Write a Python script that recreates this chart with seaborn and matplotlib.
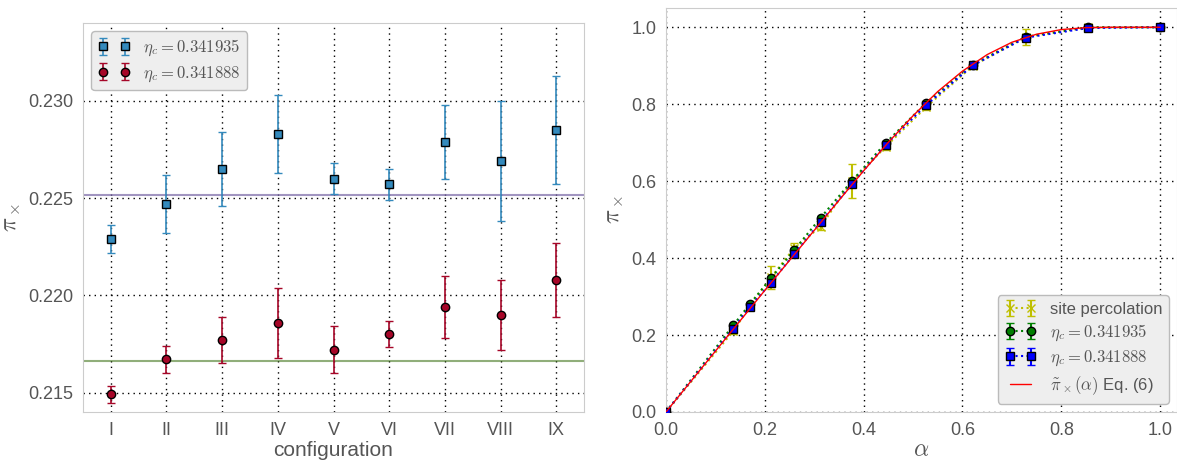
import numpy as np
import pandas as pd
import seaborn as sns
import matplotlib.pyplot as plt

# left panel: pi_x per configuration
configs = ["I", "II", "III", "IV", "V", "VI", "VII", "VIII", "IX"]
pi_a = [0.2229, 0.2247, 0.2265, 0.2283, 0.2260, 0.2257, 0.2279, 0.2269, 0.2285]
err_a = [0.0007, 0.0015, 0.0019, 0.0020, 0.0008, 0.0008, 0.0019, 0.0031, 0.0028]
pi_b = [0.2149, 0.2167, 0.2177, 0.2186, 0.2172, 0.2180, 0.2194, 0.2190, 0.2208]
err_b = [0.00045, 0.0007, 0.0012, 0.0018, 0.0012, 0.00066, 0.0016, 0.0018, 0.0019]
mean_a = 0.22514
mean_b = 0.21664
label_a = r"$\eta_c=0.341935$"
label_b = r"$\eta_c=0.341888$"

# right panel: pi_x vs alpha
alpha = [0.0, 0.136, 0.170, 0.2126, 0.259, 0.313, 0.376, 0.445, 0.526, 0.621, 0.728, 0.854, 1.0]
site = [0.0, 0.210, 0.275, 0.350, 0.425, 0.482, 0.600, 0.690, 0.792, 0.900, 0.975, 1.0, 1.0]
site_err = [0.0, 0.006, 0.006, 0.030, 0.015, 0.008, 0.045, 0.008, 0.008, 0.006, 0.020, 0.002, 0.0]
green = [0.0, 0.225, 0.281, 0.348, 0.420, 0.505, 0.600, 0.700, 0.803, 0.903, 0.975, 1.0, 1.0]
green_err = [0.0, 0.004, 0.004, 0.006, 0.005, 0.005, 0.006, 0.005, 0.004, 0.003, 0.003, 0.001, 0.0]
blue = [0.0, 0.217, 0.273, 0.336, 0.410, 0.494, 0.592, 0.695, 0.797, 0.901, 0.973, 0.998, 1.0]
blue_err = [0.0, 0.004, 0.004, 0.006, 0.005, 0.005, 0.006, 0.005, 0.004, 0.003, 0.003, 0.001, 0.0]
curve_a = [0.0, 0.05, 0.1, 0.15, 0.2, 0.25, 0.3, 0.35, 0.4, 0.45, 0.5, 0.55, 0.6, 0.65, 0.7, 0.75, 0.8, 0.85, 0.9, 0.95, 1.0]
curve_p = [0.0, 0.079, 0.158, 0.237, 0.316, 0.394, 0.472, 0.550, 0.627, 0.701, 0.770, 0.833, 0.886, 0.929, 0.961, 0.982, 0.994, 0.999, 1.0, 1.0, 1.0]

sns.set_style("whitegrid", {
    "grid.linestyle": (0, (1, 3)),
    "grid.color": "black",
    "axes.edgecolor": "#cccccc",
    "axes.linewidth": 1.5,
    "text.color": "#555555",
    "axes.labelcolor": "#555555",
    "xtick.color": "#555555",
    "ytick.color": "#555555",
})
plt.rcParams["font.family"] = ["Liberation Sans", "DejaVu Sans"]
plt.rcParams["mathtext.fontset"] = "cm"
plt.rcParams["grid.linewidth"] = 1.0

fig = plt.figure(figsize=(11.77, 4.61), dpi=100)
ax1 = fig.add_axes([0.0705, 0.1063, 0.4257, 0.8437])
ax2 = fig.add_axes([0.5658, 0.1063, 0.4342, 0.8763])

leg_kw = dict(numpoints=2, fontsize=12, frameon=True, facecolor="#eeeeee",
              edgecolor="#bbbbbb", framealpha=1, handlelength=1.9,
              handletextpad=0.8, borderpad=0.4, labelspacing=0.35)

# ---- left panel
xpos = np.arange(1, len(configs) + 1)
ax1.axhline(mean_a, color="#7A68A6", alpha=0.7, lw=1.5, zorder=1)
ax1.axhline(mean_b, color="#467821", alpha=0.6, lw=1.5, zorder=1)
ax1.errorbar(xpos, pi_a, yerr=err_a, fmt="s", color="#348ABD", mec="black", mew=1,
             ms=6, capsize=3, elinewidth=1.2, label=label_a, zorder=3)
ax1.errorbar(xpos, pi_b, yerr=err_b, fmt="o", color="#A60628", mec="black", mew=1,
             ms=6, capsize=3, elinewidth=1.2, label=label_b, zorder=3)
ax1.set_xlim(0.5, 9.5)
ax1.set_ylim(0.214, 0.234)
ax1.set_xticks(xpos)
ax1.set_xticklabels(configs)
ax1.set_yticks([0.215, 0.220, 0.225, 0.230])
ax1.tick_params(labelsize=13)
ax1.set_xlabel("configuration", fontsize=15, labelpad=2)
ax1.set_ylabel(r"$\pi_\times$", fontsize=17)
ax1.legend(loc="upper left", **leg_kw)

# ---- right panel
curve = pd.DataFrame({"alpha": curve_a, "pi": curve_p})
ax2.errorbar(alpha, site, yerr=site_err, fmt="x:", color="y", ms=6, capsize=3,
             label="site percolation", zorder=3)
ax2.errorbar(alpha, green, yerr=green_err, fmt="o:", color="g", mec="black", mew=1,
             ms=6, capsize=3, label=r"$\eta_c=0.341935$", zorder=3)
ax2.errorbar(alpha, blue, yerr=blue_err, fmt="s:", color="b", mec="black", mew=1,
             ms=6, capsize=3, label=r"$\eta_c=0.341888$", zorder=4)
sns.lineplot(data=curve, x="alpha", y="pi", color="r", lw=1, ax=ax2,
             label=r"$\tilde{\pi}_\times(\alpha)$ Eq. (6)", zorder=5)
ax2.set_xlim(0, 1.034)
ax2.set_ylim(0, 1.05)
ax2.set_xticks([0.0, 0.2, 0.4, 0.6, 0.8, 1.0])
ax2.set_yticks([0.0, 0.2, 0.4, 0.6, 0.8, 1.0])
ax2.tick_params(labelsize=13)
ax2.set_xlabel(r"$\alpha$", fontsize=17, labelpad=0)
ax2.set_ylabel(r"$\pi_\times$", fontsize=17)
handles, labels = ax2.get_legend_handles_labels()
order = [1, 2, 3, 0]
ax2.legend([handles[i] for i in order], [labels[i] for i in order],
           loc="lower right", **leg_kw)

fig.savefig("out.png", dpi=100)
